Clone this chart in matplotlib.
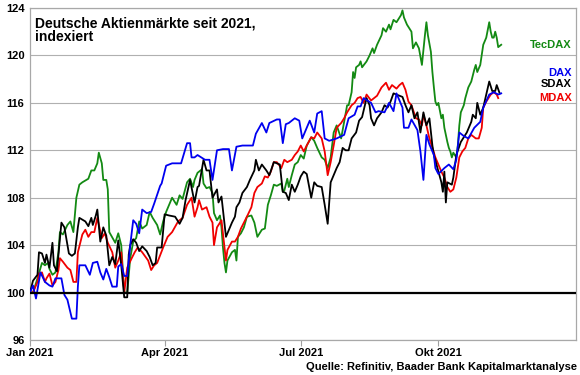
import matplotlib
matplotlib.use("Agg")
import matplotlib.pyplot as plt
import pandas as pd

plt.rcParams['font.family'] = ['Liberation Sans', 'DejaVu Sans']

# (day offset from 2021-01-01, index value)
dax = [(0,100),(2,100.6),(4,99.5),(7,101.7),(10,100.9),(13,100.6),(15,100.5),(17,101.2),(21,101.2),(23,99.8),
       (25,99.4),(28,97.8),(31,97.8),(32,100.5),(33,102.3),(37,102.3),(40,101.5),(42,102.5),(45,102.6),(47,101.7),
       (49,101.1),(51,102.0),(53,101.3),(55,100.5),(58,100.5),(59,102.2),(61,102.4),(63,101.4),(65,101.4),(67,104.0),
       (69,106.1),(71,105.8),(73,105.0),(75,107.0),(78,106.7),(81,106.8),(83,107.5),(87,109.0),(88,109.2),(91,110.7),
       (95,110.9),(101,110.9),(105,112.6),(107,112.6),(108,111.4),(110,111.4),(112,111.6),(117,111.2),(120,111.2),(122,109.5),
       (125,112.0),(129,112.1),(133,112.1),(135,110.3),(138,112.3),(142,112.4),(149,112.4),(151,113.4),(155,114.3),(158,113.5),
       (160,114.3),(165,114.6),(167,114.6),(169,112.6),(171,114.2),(173,114.3),(177,114.7),(180,114.5),(182,113.0),(187,114.5),
       (190,113.5),(192,115.1),(195,115.3),(197,113.0),(200,112.8),(205,113.0),(210,113.3),(213,114.7),(217,115.0),(219,115.7),
       (221,115.7),(223,116.4),(228,116.0),(231,115.2),(233,115.3),(237,115.2),(240,116.0),(243,115.3),(245,116.8),(249,115.6),
       (250,113.9),(253,113.9),(255,114.6),(259,113.7),(261,111.9),(263,109.5),(265,113.3),(267,112.5),(270,111.6),(271,110.5),
       (273,110.0),(277,110.5),(280,110.8),(283,110.4),(285,111.2),(287,113.5),(290,113.2),(293,113.0),(297,113.9),(301,114.4),
       (303,115.6),(307,116.7),(310,116.9),(313,116.7),(315,116.8)]

sdax = [(0,100),(2,101.0),(5,101.5),(6,103.4),(8,103.3),(10,102.5),(11,103.2),(13,102.1),(15,104.2),(16,102.3),
        (18,101.8),(20,104.5),(21,105.9),(23,105.5),(25,104.0),(26,103.3),(28,103.1),(30,103.3),(32,105.5),(33,106.3),
        (37,106.0),(39,105.6),(41,106.3),(42,105.7),(44,106.5),(45,107.0),(47,104.3),(49,105.5),(51,104.8),(53,102.3),
        (55,103.0),(57,102.4),(59,104.4),(61,102.3),(63,99.6),(65,99.6),(66,103.2),(67,104.0),(69,104.5),(71,104.2),
        (73,103.5),(75,103.9),(78,103.5),(80,103.0),(82,102.3),(84,102.5),(85,103.8),(88,103.8),(90,106.6),(93,106.5),
        (97,106.4),(100,105.8),(102,106.3),(104,107.8),(107,109.5),(110,107.6),(112,108.9),(113,109.0),(116,111.2),(118,110.3),
        (120,110.3),(122,108.0),(125,108.7),(126,107.6),(128,108.1),(131,104.7),(133,105.3),(135,105.9),(137,106.4),(138,107.2),
        (140,107.6),(142,108.4),(145,108.9),(147,109.5),(150,110.3),(151,111.2),(153,110.3),(155,110.8),(158,110.3),(160,109.9),
        (163,111.0),(167,110.8),(169,108.5),(171,108.4),(173,107.8),(175,109.1),(177,108.5),(179,109.1),(181,109.8),(183,110.2),
        (185,110.0),(188,108.0),(190,109.3),(192,109.0),(195,108.9),(197,107.4),(199,105.8),(201,109.3),(205,110.5),(207,111.0),
        (209,112.2),(211,112.0),(213,112.0),(215,113.0),(218,113.5),(220,114.5),(222,114.8),(225,116.4),(227,115.8),(228,114.7),
        (230,114.1),(232,114.7),(235,115.2),(237,115.8),(239,115.6),(241,116.1),(243,116.8),(245,116.7),(249,116.5),(251,115.8),
        (253,115.2),(255,115.8),(257,114.7),(259,115.2),(261,113.5),(263,115.2),(265,114.1),(267,114.7),(269,112.4),(270,111.6),
        (273,110.2),(275,109.3),(276,108.5),(277,110.2),(278,107.6),(279,109.3),(282,109.1),(283,109.7),(285,111.6),(288,112.7),
        (292,113.5),(295,114.4),(296,115.0),(298,114.7),(299,116.0),(301,115.0),(303,115.6),(305,116.7),(307,117.8),(309,117.0),
        (311,117.0),(312,117.5),(314,116.8)]

mdax = [(0,100),(2,100.0),(5,100.9),(6,101.6),(8,101.7),(10,100.9),(11,101.2),(13,101.6),(15,100.6),(17,100.9),
        (19,101.9),(20,102.9),(22,102.6),(25,102.1),(27,101.9),(29,100.9),(31,100.9),(32,103.4),(35,104.9),(37,105.3),
        (39,104.7),(41,105.1),(43,105.1),(45,106.3),(48,104.6),(50,105.0),(52,104.2),(55,103.4),(57,102.1),(59,102.7),
        (61,103.4),(63,100.0),(65,102.1),(68,102.9),(70,103.4),(72,103.8),(75,103.4),(79,102.7),(81,101.9),(83,102.3),
        (85,102.5),(89,103.8),(92,104.7),(95,105.1),(99,106.0),(102,106.3),(105,107.4),(108,108.0),(110,106.4),(112,107.2),
        (113,107.8),(115,107.0),(118,107.2),(120,106.4),(122,105.9),(123,104.0),(125,105.5),(128,106.1),(130,103.8),(131,102.7),
        (132,103.6),(135,104.3),(137,104.3),(139,104.7),(141,105.4),(143,105.9),(145,106.4),(148,107.2),(150,108.4),(152,108.9),
        (155,109.2),(157,109.8),(159,109.7),(161,110.2),(163,111.0),(165,111.0),(168,110.5),(170,111.2),(172,111.0),(175,111.2),
        (177,111.6),(179,111.9),(181,112.4),(183,111.9),(185,112.4),(188,113.1),(190,113.0),(192,113.5),(195,113.0),(197,111.9),
        (199,109.9),(201,111.0),(203,112.4),(205,113.9),(208,114.3),(210,114.7),(212,115.2),(215,115.8),(217,116.0),(219,116.4),
        (221,116.5),(223,116.0),(225,116.7),(228,116.2),(230,116.4),(232,116.6),(235,117.3),(238,117.7),(240,117.1),(242,117.5),
        (245,117.2),(247,117.5),(249,117.7),(251,117.1),(253,116.1),(255,115.8),(258,114.7),(260,114.6),(262,114.1),(263,115.0),
        (265,114.1),(267,113.0),(269,112.2),(271,111.4),(273,110.8),(275,110.2),(277,109.7),(279,108.9),(281,108.5),(283,108.7),
        (285,109.7),(287,111.4),(289,111.9),(291,112.2),(293,113.0),(295,113.3),(298,113.0),(300,113.0),(302,113.9),(303,115.6),
        (305,116.1),(308,116.7),(310,116.9),(312,116.7),(313,116.4)]

tecdax = [(0,100),(2,100.0),(5,101.2),(8,102.5),(10,102.3),(12,102.5),(13,102.0),(15,101.5),(17,101.7),(19,103.4),
          (20,105.1),(22,104.9),(25,105.7),(27,106.0),(29,105.1),(31,108.0),(33,109.1),(35,109.3),(39,109.6),(41,110.3),
          (43,110.3),(45,110.9),(46,111.8),(48,110.9),(49,109.5),(51,109.5),(52,108.7),(53,105.1),(57,104.2),(59,105.0),
          (61,104.0),(63,100.0),(65,100.0),(67,102.9),(69,104.3),(71,104.6),(73,106.0),(75,105.4),(78,105.7),(80,106.8),
          (82,106.3),(85,105.7),(87,104.9),(89,106.0),(91,106.8),(93,107.4),(95,108.0),(98,107.4),(100,108.2),(102,107.9),
          (105,109.3),(107,109.6),(109,108.9),(110,109.5),(112,110.1),(115,110.4),(116,109.2),(118,108.8),(120,108.9),(122,108.4),
          (123,106.7),(125,106.1),(127,106.5),(128,105.5),(129,103.8),(130,102.5),(131,101.7),(132,102.7),(135,103.4),(137,103.6),
          (138,102.7),(139,104.7),(141,105.0),(143,105.5),(145,106.4),(148,106.5),(150,105.9),(152,104.7),(155,105.3),(157,105.4),
          (159,107.4),(161,108.2),(163,109.1),(165,109.0),(168,109.2),(169,108.5),(170,108.6),(172,109.6),(173,108.9),(175,109.9),
          (177,110.8),(179,111.0),(181,111.6),(183,111.3),(185,112.4),(188,113.1),(190,112.8),(192,112.2),(195,111.4),(197,111.2),
          (199,110.5),(201,111.4),(203,113.5),(205,114.1),(208,113.0),(210,114.4),(212,115.8),(213,115.8),(215,116.9),(216,118.6),
          (217,118.1),(218,119.0),(220,119.2),(221,119.5),(222,119.0),(225,119.5),(227,120.0),(229,120.6),(230,120.2),(232,120.9),
          (235,121.7),(236,122.3),(238,122.0),(240,122.6),(241,122.2),(243,123.0),(245,122.8),(248,123.4),(249,123.8),(250,123.2),
          (252,122.6),(255,122.0),(256,120.6),(258,121.1),(260,120.6),(262,119.2),(264,121.7),(265,122.8),(266,121.7),(268,120.3),
          (269,118.6),(270,117.3),(271,116.1),(272,115.8),(273,116.0),(275,114.7),(276,115.0),(277,113.9),(278,113.3),(279,112.7),
          (280,112.2),(281,111.9),(282,111.4),(283,111.8),(285,111.4),(286,112.4),(287,114.1),(288,115.2),(290,115.8),(291,116.4),
          (293,117.3),(295,117.8),(297,118.8),(298,119.2),(299,118.6),(301,119.2),(303,120.9),(305,121.5),(307,122.8),(308,122.0),
          (309,121.5),(310,121.5),(311,122.0),(312,121.5),(313,120.7),(315,120.9)]

series_names = ["TecDAX", "DAX", "SDAX", "MDAX"]
series_colors = {"DAX": "#0000f0", "SDAX": "#000000", "MDAX": "#f00000", "TecDAX": "#138a13"}
series_data = {"DAX": dax, "SDAX": sdax, "MDAX": mdax, "TecDAX": tecdax}

start = pd.Timestamp("2021-01-01")
end = pd.Timestamp("2022-01-01")
yticks = [96, 100, 104, 108, 112, 116, 120, 124]
xtick_dates = ["2021-01-01", "2021-04-01", "2021-07-01", "2021-10-01"]
xtick_labels = ["Jan 2021", "Apr 2021", "Jul 2021", "Okt 2021"]

fig = plt.figure(figsize=(5.8, 3.75), dpi=100)
ax = fig.add_axes([30/580, 35/375, 546/580, 332/375])

for name in ["TecDAX", "MDAX", "SDAX", "DAX"]:
    pts = series_data[name]
    d = [start + pd.Timedelta(days=p[0]) for p in pts]
    v = [p[1] for p in pts]
    ax.plot(d, v, color=series_colors[name], lw=1.3, zorder=3)

ax.axhline(100, color="black", lw=1.6, zorder=4)
ax.set_xlim(start, end)
ax.set_ylim(96, 124)
ax.set_yticks(yticks)
ax.set_yticklabels([str(t) for t in yticks], fontsize=8, fontweight="bold")
ax.set_xticks([pd.Timestamp(t) for t in xtick_dates])
ax.set_xticklabels(xtick_labels, fontsize=8, fontweight="bold")
ax.tick_params(axis="y", length=0, pad=4)
ax.tick_params(axis="x", length=4, color="#a0a0a0", pad=2)
ax.grid(axis="y", color="#b0b0b0", lw=0.8, zorder=0)
for s in ["left", "bottom", "right", "top"]:
    ax.spines[s].set_color("#a8a8a8")
    ax.spines[s].set_linewidth(0.9)

ax.text(0.0095, 0.975,
        "Deutsche Aktienmärkte seit 2021,\nindexiert", transform=ax.transAxes,
        fontsize=10, fontweight="bold", va="top", ha="left", linespacing=1.0)

label_y = {"TecDAX": 120.9, "DAX": 118.5, "SDAX": 117.55, "MDAX": 116.45}
for name in series_names:
    ax.text(0.992, label_y[name], name, transform=ax.get_yaxis_transform(),
            color=series_colors[name], fontsize=8, fontweight="bold",
            ha="right", va="center")

fig.text(577/580, 1 - 367/375, "Quelle: Refinitiv, Baader Bank Kapitalmarktanalyse",
         fontsize=8, fontweight="bold", ha="right", va="center")

fig.savefig("out.png", dpi=100)
